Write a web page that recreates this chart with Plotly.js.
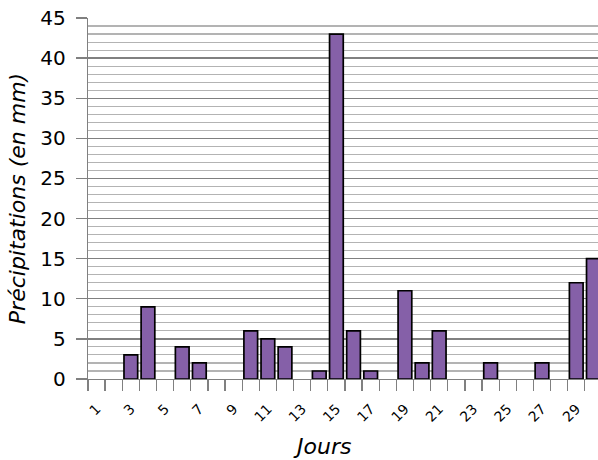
<!DOCTYPE html>
<html>
<head>
<meta charset="utf-8">
<script src="https://cdn.plot.ly/plotly-3.0.1.min.js"></script>
<style>html,body{margin:0;padding:0;overflow:hidden;background:#fff}</style>
</head>
<body>
<div id="chart" style="width:598px;height:460px"></div>
<script>
const days = [1,2,3,4,5,6,7,8,9,10,11,12,13,14,15,16,17,18,19,20,21,22,23,24,25,26,27,28,29,30];
const rainfall = [0,0,3,9,0,4,2,0,0,6,5,4,0,1,43,6,1,0,11,2,6,0,0,2,0,0,2,0,12,15];
const tickDays = [1,3,5,7,9,11,13,15,17,19,21,23,25,27,29];
const tickLabels = tickDays.map(String);

const trace = {
  type: 'bar',
  x: days,
  y: rainfall,
  marker: {
    color: '#8560a8',
    line: {color: '#000000', width: rainfall.map(v => v > 0 ? 1.7 : 0)}
  },
  hoverinfo: 'x+y'
};

const layout = {
  width: 598, height: 460,
  margin: {l: 88, r: 0, t: 18, b: 81},
  paper_bgcolor: '#ffffff', plot_bgcolor: '#ffffff',
  font: {family: 'DejaVu Sans', color: '#000000'},
  bargap: 0.2,
  showlegend: false,
  xaxis: {
    type: 'linear',
    range: [0.5, 30.27],
    tickmode: 'array', tickvals: tickDays, ticktext: tickLabels,
    ticks: '', ticklen: 0,
    tickangle: -45,
    tickfont: {family: 'DejaVu Sans', size: 14, color: '#000'},
    ticklabelstandoff: 15,
    showgrid: false, zeroline: false,
    showline: true, linecolor: '#808080', linewidth: 1.3,
    minor: {tickmode: 'linear', tick0: 0.5, dtick: 1, ticks: 'outside', ticklen: 11, tickcolor: '#808080', tickwidth: 1.3, showgrid: false}
  },
  yaxis: {
    range: [0, 45],
    dtick: 5, tick0: 0,
    ticks: 'outside', ticklen: 11, tickcolor: '#808080', tickwidth: 1.3,
    tickfont: {family: 'DejaVu Sans', size: 20, color: '#000'},
    ticklabelstandoff: 6,
    showgrid: true, gridcolor: '#808080', gridwidth: 1.3,
    zeroline: false,
    showline: true, linecolor: '#808080', linewidth: 1.3,
    minor: {dtick: 1, showgrid: true, gridcolor: '#b3b3b3', gridwidth: 1.1, ticks: ''},
    title: {text: 'Précipitations (en mm)', font: {family: 'DejaVu Sans', size: 22, style: 'italic', color: '#000'}, standoff: 8}
  },
  annotations: [{
    text: 'Jours', xref: 'paper', yref: 'paper', x: 0.459, y: -0.188,
    xanchor: 'center', yanchor: 'middle', showarrow: false,
    font: {family: 'DejaVu Sans', size: 22, style: 'italic', color: '#000'}
  }]
};

Plotly.newPlot('chart', [trace], layout, {displayModeBar: false, staticPlot: true});
</script>
</body>
</html>
